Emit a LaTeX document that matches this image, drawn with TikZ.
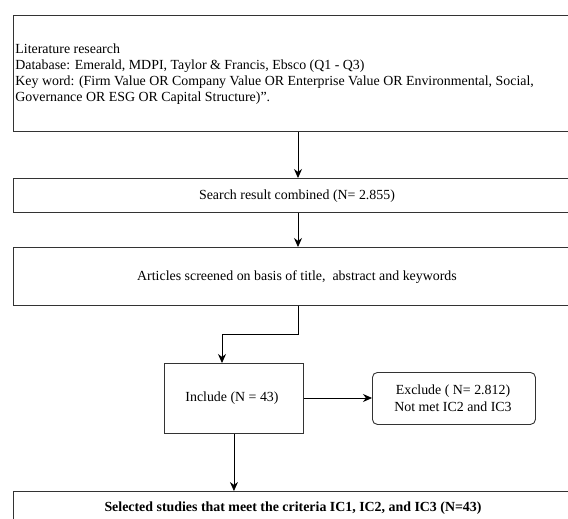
\documentclass[tikz,border=0pt]{standalone}
\usepackage{fontspec}
\setmainfont{Liberation Serif}
\usetikzlibrary{arrows.meta,positioning}
\begin{document}
\begin{tikzpicture}[x=1pt,y=-1pt,line width=0.8pt,>={Stealth[length=9pt,width=8pt]},
    box/.style={draw=black!80,line width=0.9pt,inner sep=0pt},
    txt/.style={font=\fontsize{13.9}{16.3}\selectfont,inner sep=0pt}]
        \clip (0,0) rectangle (568,519);
        \fill [white] (0,0) rectangle (568,519);
        % boxes
        \node [box, minimum width=568pt, minimum height=116pt, anchor=north west] (lit) at (13,15) {};
        \node [box, minimum width=568pt, minimum height=34pt, anchor=north west] (search) at (13,178) {};
        \node [box, minimum width=568pt, minimum height=58pt, anchor=north west] (screen) at (13,247) {};
        \node [box, minimum width=139pt, minimum height=70pt, anchor=north west] (incl) at (164,363) {};
        \node [box, rounded corners=5pt, minimum width=163pt, minimum height=52pt, anchor=north west] (excl) at (372,372) {};
        \node [box, minimum width=568pt, minimum height=60pt, anchor=north west] (sel) at (13,491) {};
        % texts
        \node [txt, align=left, anchor=north west] (littext) at (15,43) {Literature research\\
            Database: Emerald, MDPI, Taylor \& Francis, Ebsco (Q1 - Q3)\\
            Key word: (Firm Value OR Company Value OR Enterprise Value OR Environmental, Social,\\
            Governance OR ESG OR Capital Structure)”.};
        \node [txt] (searchtext) at (297,196) {Search result combined (N= 2.855)};
        \node [txt] (screentext) at (297,277) {Articles screened on basis of title,\ \ abstract and keywords};
        \node [txt] (incltext) at (232,398) {Include (N = 43)};
        \node [txt, align=center, font=\fontsize{13.9}{17}\selectfont] (excltext) at (453,398.5) {Exclude ( N= 2.812)\\Not met IC2 and IC3};
        \node [txt, font=\fontsize{13.9}{16.3}\selectfont\bfseries] (seltext) at (293,508) {Selected studies that meet the criteria IC1, IC2, and IC3 (N=43)};
        % connectors
        \coordinate (bend) at (222,334);
        \draw [->] (lit.south -| 298,0) -- (search.north -| 298,0);
        \draw [->] (search.south -| 298,0) -- (screen.north -| 298,0);
        \draw [->] (screen.south -| 298,0) |- (bend) -- (incl.north -| bend);
        \draw [->] (incl.south) -- (sel.north -| incl.south);
        \draw [->] (incl.east |- 0,398) -- (excl.west |- 0,398);
    \end{tikzpicture}
\end{document}
